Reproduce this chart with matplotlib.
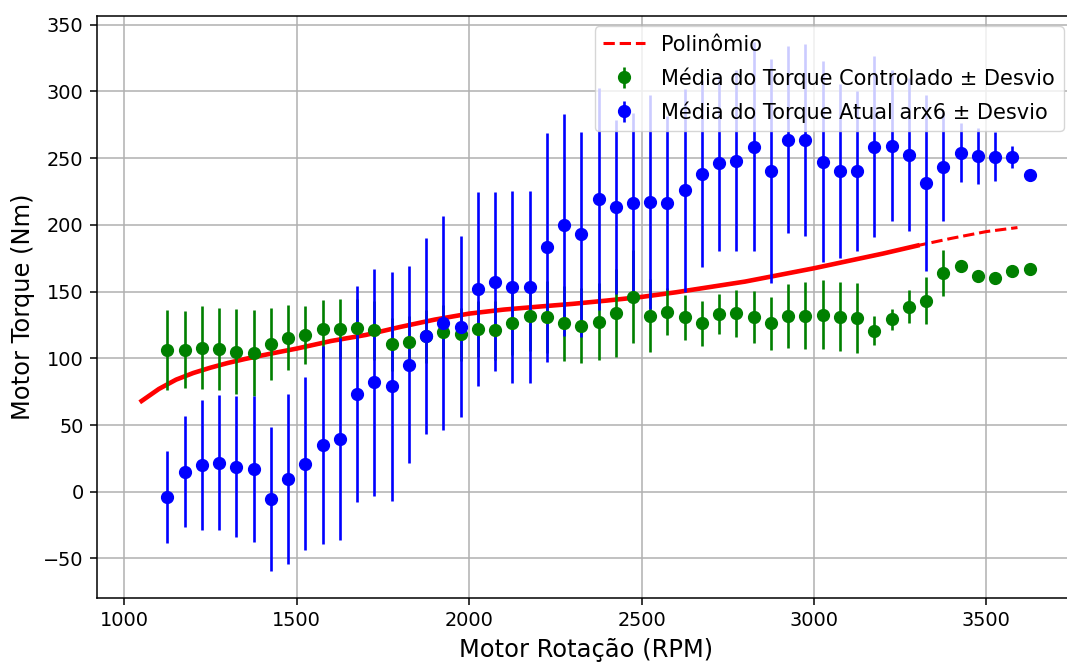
import numpy as np
import matplotlib
matplotlib.use("Agg")
import matplotlib.pyplot as plt

# bin centres (RPM)
rpm = [1125, 1175, 1225, 1275, 1325, 1375, 1425, 1475, 1525, 1575,
       1625, 1675, 1725, 1775, 1825, 1875, 1925, 1975, 2025, 2075,
       2125, 2175, 2225, 2275, 2325, 2375, 2425, 2475, 2525, 2575,
       2625, 2675, 2725, 2775, 2825, 2875, 2925, 2975, 3025, 3075,
       3125, 3175, 3225, 3275, 3325, 3375, 3425, 3475, 3525, 3575,
       3625]

# torque controlado (media / desvio)
ctrl_mean = [106, 106.5, 108, 107, 105, 104, 110.5, 115.5, 117.5, 122,
             122, 122.5, 121, 110.5, 112, 116.5, 120, 118, 122, 121,
             126.5, 131.5, 131.25, 126.25, 124.5, 127.5, 133.75, 146.25, 132, 135,
             130.75, 126.25, 133.25, 133.75, 130.75, 126.25, 131.5, 132, 132.75, 131.25,
             130.25, 120.75, 129.25, 138.75, 143.25, 164, 169, 161.5, 160.5, 165.25,
             167]
ctrl_std = [30, 29, 31, 31, 32, 32, 27, 24.5, 22, 22,
            22.5, 22, 22, 20, 20, 20, 20, 20, 21, 22,
            24, 26, 27, 28, 28, 29, 33, 35, 27.5, 17.5,
            17, 17, 15, 17.5, 19.5, 20, 24, 25, 26, 26,
            26, 11, 8, 12.5, 17.5, 17, 0, 0, 0, 0,
            0]

# torque atual arx6 (media / desvio)
atual_mean = [-3.75, 15, 20, 21.75, 18.75, 17, -5.5, 9.5, 21, 35,
              39.5, 73.25, 82, 79, 95.25, 116.5, 126.5, 123.75, 152, 157.5,
              153.75, 153.75, 183.25, 200, 193, 219.25, 213.5, 216.5, 217.25, 216.5,
              226, 238.25, 246.5, 248.25, 258.75, 240.25, 263.75, 263.75, 247.5, 240.25,
              240.25, 258.75, 259.5, 252.75, 231.25, 243.25, 254, 252, 251.25, 251,
              237.75]
atual_std = [34.5, 41.5, 48.5, 50.5, 53, 54.5, 54, 63.5, 65, 74,
             76, 81, 85, 86, 74, 73.5, 80, 68, 73, 67,
             72, 72, 86, 83, 77, 83, 65, 67, 80, 65,
             76, 70, 66, 67.5, 78, 84, 70, 72, 75, 65,
             60, 67.5, 56.5, 57.5, 66, 40.5, 22, 21, 18.5, 8,
             0]

# polinomio ajustado
poly_x = [1050, 1100, 1150, 1200, 1250, 1300, 1350, 1400, 1450, 1500,
          1600, 1700, 1800, 1900, 2000, 2100, 2200, 2300, 2400, 2500,
          2600, 2700, 2800, 2900, 3000, 3100, 3200, 3300, 3400, 3500, 3590]
poly_y = [68, 77, 84, 89, 93, 96.5, 99.5, 102.2, 104.8, 107.3,
          113, 117.5, 123.5, 129, 133.5, 136.5, 138.7, 140.8, 143.3, 146,
          149.5, 153.5, 157.5, 162.5, 167.5, 173, 178.5, 184.5, 190, 195, 198]

plt.rcParams["xtick.major.size"] = 4.9
plt.rcParams["ytick.major.size"] = 4.9
plt.rcParams["xtick.major.pad"] = 4.9
plt.rcParams["ytick.major.pad"] = 4.9
plt.rcParams["xtick.major.width"] = 1.1
plt.rcParams["ytick.major.width"] = 1.1
plt.rcParams["axes.linewidth"] = 1.1
plt.rcParams["grid.linewidth"] = 1.1
plt.rcParams["axes.labelpad"] = 5.6

fig = plt.figure(figsize=(10.67, 6.62), dpi=100)
ax = fig.add_axes([0.0911, 0.0974, 0.9154, 0.8784])

ax.plot(poly_x, poly_y, "r--", lw=2.2, label="Polinômio")
# the source curve is so dense that most of it reads as solid
n_solid = poly_x.index(3300) + 1
ax.plot(poly_x[:n_solid], poly_y[:n_solid], "r-", lw=3.3)

ax.errorbar(rpm, ctrl_mean, yerr=ctrl_std, fmt="o", color="green",
            ms=8.5, elinewidth=1.9, label="Média do Torque Controlado ± Desvio")
ax.errorbar(rpm, atual_mean, yerr=atual_std, fmt="o", color="blue",
            ms=8.5, elinewidth=1.9, label="Média do Torque Atual arx6 ± Desvio")

ax.set_xlabel("Motor Rotação (RPM)", fontsize=17.4)
ax.set_ylabel("Motor Torque (Nm)", fontsize=17.4)
ax.tick_params(labelsize=13.9)
ax.grid(True)
ax.legend(loc="upper right", fontsize=15.0, labelspacing=0.6)

fig.savefig("out.png", dpi=100)
